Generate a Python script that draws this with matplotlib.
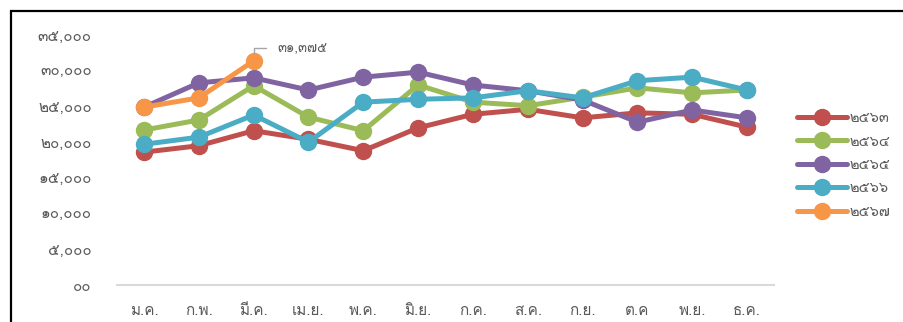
# line chart, monthly values per year (Thai Buddhist years)
import matplotlib
matplotlib.use("Agg")
import matplotlib.pyplot as plt
from matplotlib import font_manager, ft2font
from matplotlib.patches import Rectangle


# data
months = ["ม.ค.", "ก.พ.", "มี.ค.", "เม.ย.", "พ.ค.", "มิ.ย.",
          "ก.ค.", "ส.ค.", "ก.ย.", "ต.ค", "พ.ย.", "ธ.ค."]
years = ["๒๕๖๓", "๒๕๖๔", "๒๕๖๕", "๒๕๖๖", "๒๕๖๗"]

y2563 = [18600, 19500, 21600, 20400, 18800, 22000, 23900, 24600, 23400, 24100, 23900, 22100]
y2564 = [21700, 23100, 27900, 23500, 21600, 28000, 25600, 25100, 26300, 27600, 26900, 27300]
y2565 = [24900, 28300, 29000, 27300, 29100, 29800, 28000, 27200, 25900, 22800, 24500, 23400]
y2566 = [19700, 20700, 23800, 20000, 25600, 26000, 26200, 27200, 26200, 28600, 29100, 27300]
y2567 = [24900, 26200, 31375]

series = [y2563, y2564, y2565, y2566, y2567]
colors = ["#C0504D", "#9BBB59", "#8064A2", "#4BACC6", "#F79646"]

yticks = [0, 5000, 10000, 15000, 20000, 25000, 30000, 35000]

thai_digits = "๐๑๒๓๔๕๖๗๘๙"


def to_thai(n):
    s = f"{n:,}"
    return "".join(thai_digits[int(c)] if c.isdigit() else c for c in s)


ytick_labels = ["๐๐"] + [to_thai(v) for v in yticks[1:]]


# look for an installed font that has Thai glyphs
def find_thai_font():
    for f in font_manager.fontManager.ttflist:
        try:
            ft = ft2font.FT2Font(f.fname)
            if ft.get_char_index(ord("ก")) and ft.get_char_index(ord("๕")):
                return f.name
        except Exception:
            pass
    return None


thai_font = find_thai_font()
fams = [thai_font, "DejaVu Sans"] if thai_font else ["DejaVu Sans"]
plt.rcParams["font.family"] = fams

fig = plt.figure(figsize=(9.04, 3.22), dpi=100)
ax = fig.add_axes([0.129, 0.1149, 0.7277, 0.7764])

x = list(range(len(months)))
for vals, col, lab in zip(series, colors, years):
    ax.plot(x[:len(vals)], vals, color=col, lw=3.6, marker="o", ms=11.5,
            solid_capstyle="round", label=lab, zorder=3)

ax.set_xlim(-0.5, len(months) - 0.5)
ax.set_ylim(0, 35000)
ax.set_yticks(yticks)
ax.set_yticklabels(ytick_labels, color="#595959", fontsize=11)
ax.set_xticks(x)
ax.set_xticklabels(months, color="#595959", fontsize=11)
ax.tick_params(axis="both", length=0)
ax.tick_params(axis="y", pad=18)
ax.tick_params(axis="x", pad=14)
for s in ["top", "right", "left"]:
    ax.spines[s].set_visible(False)
ax.spines["bottom"].set_color("#D9D9D9")
ax.spines["bottom"].set_linewidth(1.5)

# label on the last orange point with leader line
last = y2567[-1]
ax.annotate(to_thai(last), xy=(2, last), xytext=(17, 9), textcoords="offset points",
            color="#595959", fontsize=9.5, va="center", ha="left",
            arrowprops=dict(arrowstyle="-", color="#A6A6A6", lw=1,
                            connectionstyle="angle,angleA=0,angleB=90,rad=0",
                            shrinkA=6, shrinkB=6))

ax.legend(loc="center left", bbox_to_anchor=(1.015, 0.48), frameon=False,
          fontsize=10.5, labelcolor="#595959", handlelength=3.4,
          handletextpad=0.2, labelspacing=0.65)

# chart frame, cut at right and bottom like the screenshot
fig.patches.append(Rectangle((11 / 904, -0.1), 1.2, (322 - 11) / 322 + 0.1,
                             transform=fig.transFigure, fill=False,
                             edgecolor="black", lw=1.6))

fig.savefig("out.png", dpi=100)
